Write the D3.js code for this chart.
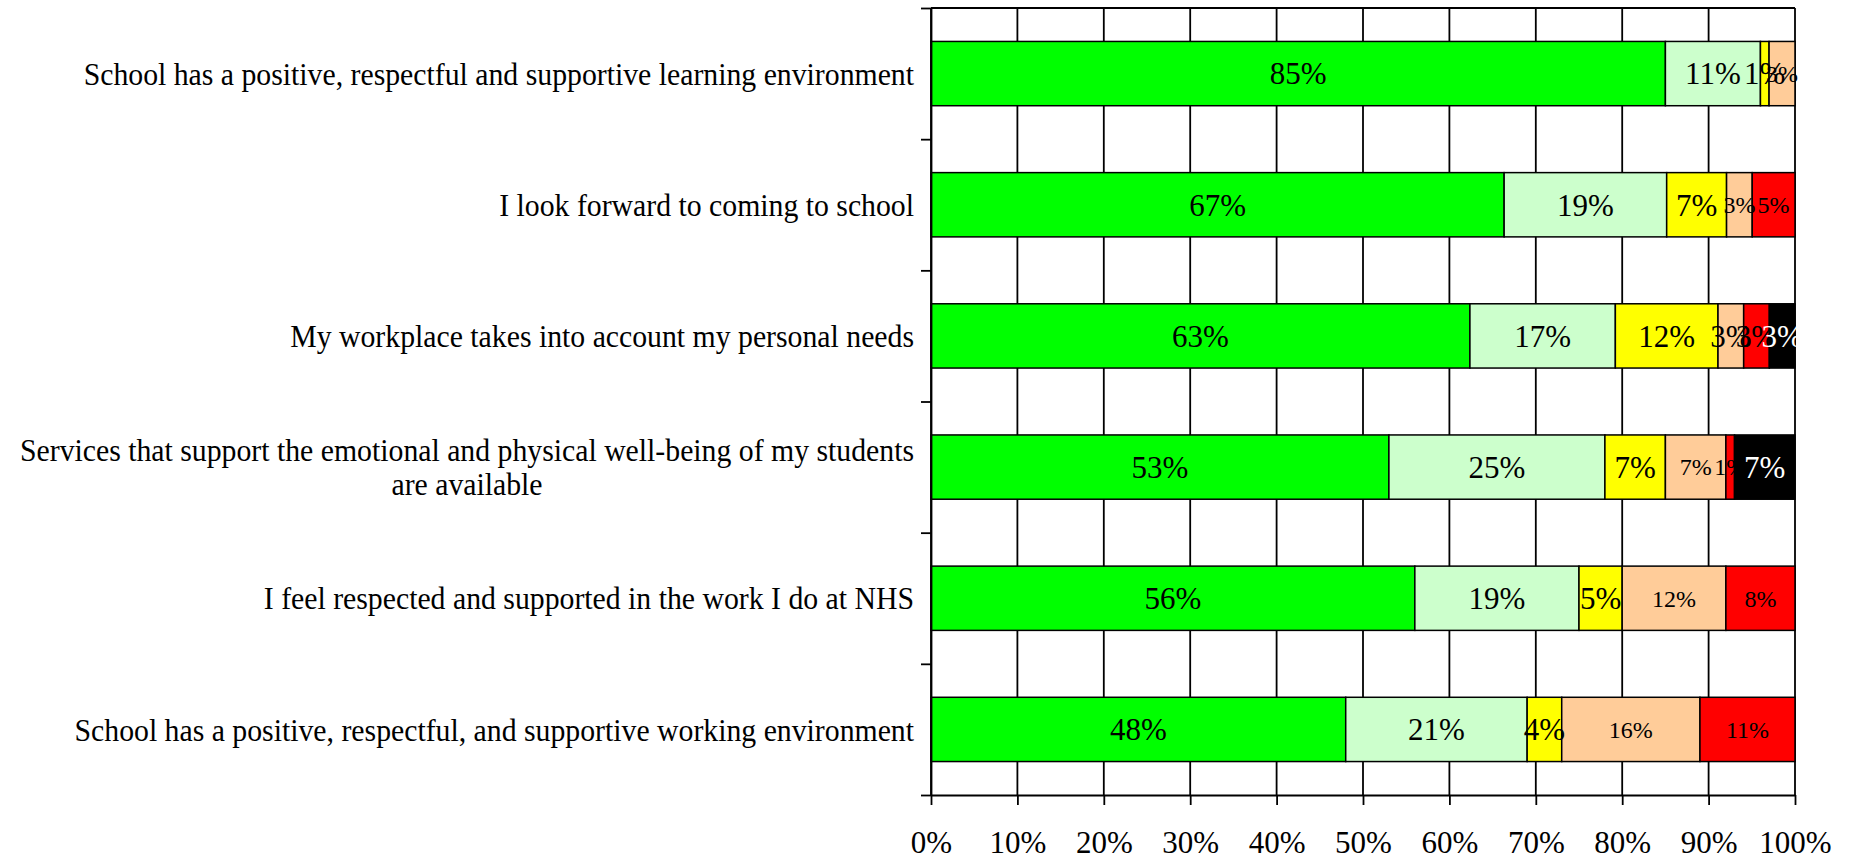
<!DOCTYPE html>
<html>
<head>
<meta charset="utf-8">
<script src="https://cdn.jsdelivr.net/npm/d3@7"></script>
<style>
    body { margin: 0; background: #fff; }
    svg { display: block; }
    text { font-family: "Liberation Serif", "Times New Roman", serif; }
</style>
</head>
<body>
<svg id="survey-chart" width="1856" height="859"></svg>
<script>
// survey answers per statement, in percent (as printed on the bars)
const categories = [
    "School has a positive, respectful and supportive learning environment",
    "I look forward to coming to school",
    "My workplace takes into account my personal needs",
    "Services that support the emotional and physical well-being of my students\nare available",
    "I feel respected and supported in the work I do at NHS",
    "School has a positive, respectful, and supportive working environment"
];
const seriesKeys = ["stronglyAgree", "agree", "neutral", "disagree", "stronglyDisagree", "notApplicable"];

const stronglyAgree    = [85, 67, 63, 53, 56, 48];
const agree            = [11, 19, 17, 25, 19, 21];
const neutral          = [1, 7, 12, 7, 5, 4];
const disagree         = [3, 3, 3, 7, 12, 16];
const stronglyDisagree = [0, 5, 3, 1, 8, 11];
const notApplicable    = [0, 0, 3, 7, 0, 0];

const xTicks = [0, 0.1, 0.2, 0.3, 0.4, 0.5, 0.6, 0.7, 0.8, 0.9, 1];

const colors = ["#00ff00", "#ccffcc", "#ffff00", "#ffcc99", "#ff0000", "#000000"];
// labels printed with the smaller font (row index -> series indexes)
const smallLabels = { 0: [3], 1: [3, 4], 3: [3, 4], 4: [3, 4], 5: [3, 4] };

function drawSurveyChart() {
    let chart = d3.select("#survey-chart"),
        margin = { top: 8, right: 61, bottom: 64, left: 931 },
        width = +chart.attr("width") - margin.left - margin.right,
        height = +chart.attr("height") - margin.top - margin.bottom;

    let seriesValues = [stronglyAgree, agree, neutral, disagree, stronglyDisagree, notApplicable];
    let rows = categories.map((c, i) => {
        let row = { category: c, index: i };
        seriesKeys.forEach((k, j) => row[k] = seriesValues[j][i]);
        return row;
    });

    let stacked = d3.stack()
        .keys(seriesKeys)
        .offset(d3.stackOffsetExpand)(rows);

    let x = d3.scaleLinear().domain([0, 1]).range([0, width]);

    let y = d3.scaleBand()
        .domain(categories)
        .range([0, height])
        .paddingInner(0.51)
        .paddingOuter(0.255);

    let focus = chart.append("g")
        .attr("transform", "translate(" + margin.left + "," + margin.top + ")");

    // vertical gridlines
    focus.selectAll(".grid")
        .data(xTicks)
        .join("line")
        .attr("class", "grid")
        .attr("x1", d => x(d))
        .attr("x2", d => x(d))
        .attr("y1", 0)
        .attr("y2", height)
        .style("stroke", "#000")
        .style("stroke-width", "1.8px");

    // top border of the plot
    focus.append("line")
        .attr("x1", x(0))
        .attr("x2", x(1))
        .attr("y1", 0)
        .attr("y2", 0)
        .style("stroke", "#000")
        .style("stroke-width", "1.8px");

    // stacked segments
    let layers = focus.selectAll(".layer")
        .data(stacked)
        .join("g")
        .attr("class", "layer")
        .style("fill", (d, i) => colors[i]);

    layers.selectAll("rect")
        .data(d => d)
        .join("rect")
        .filter(d => d[1] - d[0] > 0)
        .attr("x", d => x(d[0]))
        .attr("y", d => y(d.data.category))
        .attr("width", d => x(d[1]) - x(d[0]))
        .attr("height", y.bandwidth())
        .style("stroke", "#000")
        .style("stroke-width", "1.5px");

    // value labels
    stacked.forEach((layer, si) => {
        layer.forEach(d => {
            let value = d.data[layer.key];
            if (!value) return;
            let small = (smallLabels[d.data.index] || []).includes(si);
            focus.append("text")
                .attr("x", (x(d[0]) + x(d[1])) / 2)
                .attr("y", y(d.data.category) + y.bandwidth() / 2)
                .attr("dy", "0.35em")
                .attr("text-anchor", "middle")
                .style("font-size", small ? "24px" : "31px")
                .style("fill", si === 5 ? "#fff" : "#000")
                .text(value + "%");
        });
    });

    // left axis: ticks between the categories
    let yEdges = d3.scaleLinear().domain([0, categories.length]).range([0, height]);
    let yAxis = d3.axisLeft(yEdges)
        .tickValues(d3.range(categories.length + 1))
        .tickFormat("")
        .tickSize(10)
        .tickSizeOuter(0);

    focus.append("g")
        .attr("class", "axis axis--y")
        .call(yAxis)
        .call(g => g.selectAll("line, path").style("stroke", "#000").style("stroke-width", "1.8px"));

    // bottom axis
    let xAxis = d3.axisBottom(x)
        .tickValues(xTicks)
        .tickFormat(d3.format(".0%"))
        .tickSize(10)
        .tickSizeOuter(0)
        .tickPadding(26);

    focus.append("g")
        .attr("class", "axis axis--x")
        .attr("transform", "translate(0," + height + ")")
        .call(xAxis)
        .call(g => g.selectAll("line, path").style("stroke", "#000").style("stroke-width", "1.8px"))
        .call(g => g.selectAll("text")
            .style("font-family", "\"Liberation Serif\", \"Times New Roman\", serif")
            .style("font-size", "31px")
            .style("fill", "#000"));

    // category labels (slightly condensed, right aligned)
    categories.forEach(c => {
        let lines = c.split("\n");
        let g = focus.append("g")
            .attr("transform", "translate(-17," + (y(c) + y.bandwidth() / 2) + ") scale(0.93,1)");
        let lineHeight = 34;
        let first = null;
        lines.forEach((line, li) => {
            let t = g.append("text")
                .attr("y", (li - (lines.length - 1) / 2) * lineHeight)
                .attr("dy", "0.35em")
                .style("font-size", "32px")
                .style("fill", "#000")
                .text(line);
            if (li === 0) {
                t.attr("text-anchor", "end");
                first = t;
            } else {
                let w = first.node().getComputedTextLength();
                t.attr("text-anchor", "middle").attr("x", -w / 2);
            }
        });
    });
}

drawSurveyChart();
</script>
</body>
</html>
